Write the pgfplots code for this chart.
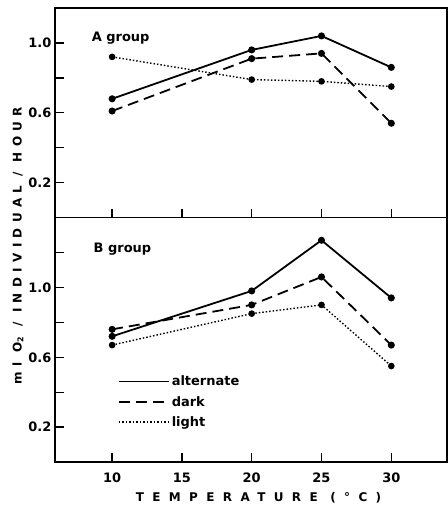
\documentclass[border=0pt]{standalone}
\usepackage{pgfplots}
\pgfplotsset{compat=1.18}
\usepackage{fontspec}
\setmainfont{DejaVu Sans}
\begin{document}
\begin{tikzpicture}
\pgfplotsset{
  panel/.style={
    scale only axis, width=393pt,
    xmin=5.9, xmax=34, ymin=0,
    axis line style={line width=1.6pt},
    xtick={10,15,20,25,30}, tick pos=left, tick align=inside,
    major tick length=9pt, tick style={line width=1.4pt, black},
    every tick label/.append style={font=\fontsize{13}{15}\selectfont\bfseries},
    xticklabel style={yshift=-7pt},
    /pgf/number format/assume math mode=true,
    mark size=2.6pt,
  },
  alt/.style={black, line width=1.8pt, mark=*},
  drk/.style={black, line width=1.8pt, dash pattern=on 11pt off 6pt, mark=*, mark options={solid}},
  lgt/.style={black, line width=1.4pt, dash pattern=on 1.5pt off 2pt, mark=*, mark options={solid}},
}
% A group
\begin{axis}[panel, name=A, height=210pt, ymax=1.2,
  ytick={0.2,0.4,0.6,0.8,1.0}, yticklabels={0.2,,0.6,,1.0},
  xticklabels={}]
\addplot[alt] coordinates {(10,0.68) (20,0.96) (25,1.04) (30,0.86)};
\addplot[drk] coordinates {(10,0.61) (20,0.91) (25,0.94) (30,0.54)};
\addplot[lgt] coordinates {(10,0.92) (20,0.79) (25,0.78) (30,0.75)};
\node[anchor=west, font=\fontsize{13}{15}\selectfont\bfseries] at (rel axis cs:0.085,0.857) {A group};
\end{axis}
% B group
\begin{axis}[panel, at={(A.south west)}, anchor=north west, height=245pt, ymax=1.4,
  ytick={0.2,0.4,0.6,0.8,1.0,1.2}, yticklabels={0.2,,0.6,,1.0,},
  xticklabels={10,15,20,25,30},
  legend style={at={(0.153,0.37)}, anchor=north west, draw=none, fill=none,
    font=\fontsize{13}{15}\selectfont\bfseries, row sep=5pt},
  legend cell align=left,
  legend image code/.code={\draw[#1] (0pt,0pt) -- (50pt,0pt);}]
\addplot[alt] coordinates {(10,0.72) (20,0.98) (25,1.27) (30,0.94)};
\addplot[drk] coordinates {(10,0.76) (20,0.90) (25,1.06) (30,0.67)};
\addplot[lgt] coordinates {(10,0.67) (20,0.85) (25,0.90) (30,0.55)};
\legend{alternate, dark, light}
\node[anchor=west, font=\fontsize{13}{15}\selectfont\bfseries] at (rel axis cs:0.09,0.87) {B group};
\end{axis}
\node[rotate=90, font=\fontsize{12}{14}\selectfont\bfseries] at ([xshift=-37pt,yshift=-28pt]A.south west)
  {\addfontfeature{LetterSpace=45}ml O\textsubscript{2} / INDIVIDUAL / HOUR};
\node[inner sep=0pt, font=\fontsize{12}{14}\selectfont\bfseries] at ([xshift=204pt,yshift=-281pt]A.south west)
  {\addfontfeature{LetterSpace=70}TEMPERATURE (°C)};
\path ([xshift=-55pt,yshift=8pt]A.north west) -- ([yshift=-288pt]A.south east);
\end{tikzpicture}
\end{document}
